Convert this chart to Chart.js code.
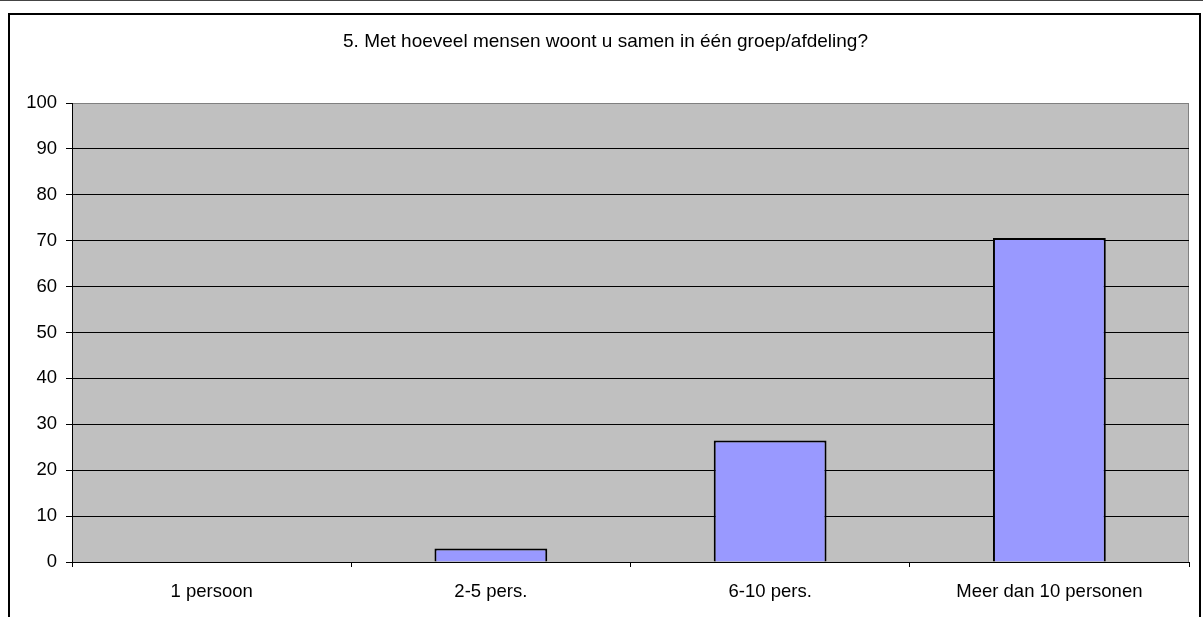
<!DOCTYPE html>
<html>
<head>
<meta charset="utf-8">
<title>Groepsgrootte</title>
<script src="https://cdn.jsdelivr.net/npm/chart.js@4/dist/chart.umd.min.js"></script>
<style>
    html, body { margin: 0; padding: 0; background: #fff; overflow: hidden; }
    #topline { position: absolute; left: 0; top: 0; width: 1203px; height: 1px; background: #444; }
    #frame { position: absolute; left: 8px; top: 13px; width: 1193px; height: 700px;
             box-sizing: border-box; border: 2px solid #000; }
    #wrap { position: absolute; left: 0; top: 0; width: 1203px; height: 617px; }
</style>
</head>
<body>
<div id="topline"></div>
<div id="frame"></div>
<div id="wrap"><canvas id="chart"></canvas></div>
<script>
// Survey question 5: group size (percent of respondents)
const titleText = '5. Met hoeveel mensen woont u samen in één groep/afdeling?';
const categories = ['1 persoon', '2-5 pers.', '6-10 pers.', 'Meer dan 10 personen'];
const percentages = [0, 2.94, 26.47, 70.59];
const yTicks = { min: 0, max: 100, step: 10 };

const FONT = "'Liberation Sans', Arial, sans-serif";

// gray plot background plus its gray top/right edge
const plotBackground = {
    id: 'plotBackground',
    beforeDraw(chart) {
        const { ctx, chartArea: a } = chart;
        ctx.save();
        ctx.fillStyle = '#C0C0C0';
        ctx.fillRect(a.left, a.top, a.right - a.left, a.bottom - a.top);
        ctx.strokeStyle = '#808080';
        ctx.lineWidth = 1;
        ctx.beginPath();
        ctx.moveTo(a.left, a.top + 0.5);
        ctx.lineTo(a.right - 0.5, a.top + 0.5);
        ctx.lineTo(a.right - 0.5, a.bottom);
        ctx.stroke();
        ctx.restore();
    }
};

class GroupChart {
    constructor() {
        this.render();
    }

    render() {
        const ctx = document.getElementById('chart').getContext('2d');
        this.chart = new Chart(ctx, {
            type: 'bar',
            data: {
                labels: categories,
                datasets: [{
                    data: percentages,
                    backgroundColor: '#9999FF',
                    borderColor: '#000000',
                    borderWidth: 2,
                    barPercentage: 0.404,
                    categoryPercentage: 1.0
                }]
            },
            options: {
                responsive: true,
                maintainAspectRatio: false,
                animation: false,
                layout: { padding: { left: 22, right: 14, top: 0, bottom: 0 } },
                plugins: {
                    legend: { display: false },
                    tooltip: { enabled: false },
                    title: {
                        display: true,
                        text: titleText,
                        color: '#000',
                        font: { family: FONT, size: 19, weight: 'normal', lineHeight: 1.2 },
                        padding: { top: 30.5, bottom: 49.7 }
                    }
                },
                scales: {
                    x: {
                        afterFit(scale) { scale.height = 55; },
                        grid: {
                            display: true,
                            drawOnChartArea: false,
                            drawTicks: true,
                            tickLength: 5,
                            color: '#000'
                        },
                        border: { display: true, color: '#000', width: 1 },
                        ticks: {
                            color: '#000',
                            padding: 14,
                            maxRotation: 0,
                            font: { family: FONT, size: 18.5 }
                        }
                    },
                    y: {
                        min: yTicks.min,
                        max: yTicks.max,
                        afterFit(scale) { scale.width = 50; },
                        grid: {
                            color: (c) => (c.tick && c.tick.value === yTicks.max) ? '#808080' : '#000',
                            tickColor: '#000',
                            tickLength: 6,
                            lineWidth: 1
                        },
                        border: { display: true, color: '#000', width: 1 },
                        ticks: {
                            stepSize: yTicks.step,
                            color: '#000',
                            padding: 9,
                            font: { family: FONT, size: 18.5 }
                        }
                    }
                }
            },
            plugins: [plotBackground]
        });
    }
}

new GroupChart();
</script>
</body>
</html>
